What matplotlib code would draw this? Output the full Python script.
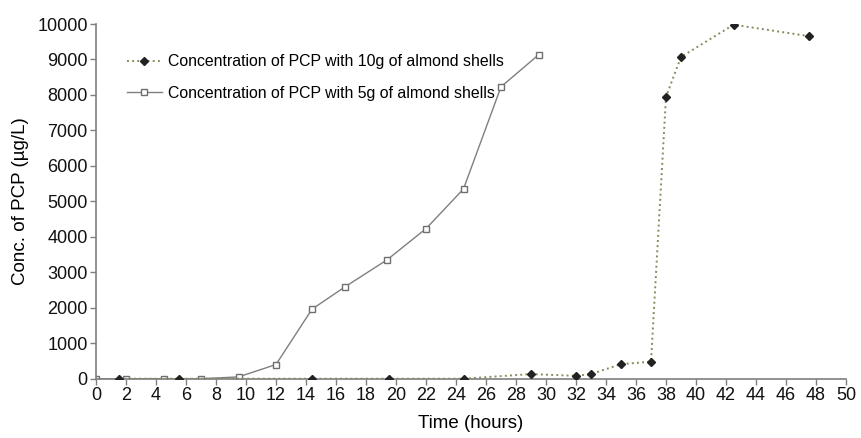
import matplotlib
matplotlib.use("Agg")
import matplotlib.pyplot as plt

plt.rcParams['font.family'] = ['Liberation Sans', 'DejaVu Sans']

# 10 g almond shells
t_10g = [1.5, 5.5, 14.4, 19.5, 24.5, 29.0, 32.0, 33.0, 35.0, 37.0, 38.0, 39.0, 42.5, 47.5]
c_10g = [0, 0, 0, 0, 0, 130, 80, 130, 410, 480, 7950, 9070, 9980, 9660]

# 5 g almond shells
t_5g = [0, 2.0, 4.5, 7.0, 9.5, 12.0, 14.4, 16.6, 19.4, 22.0, 24.5, 27.0, 29.5]
c_5g = [0, 0, 0, 0, 50, 400, 1960, 2590, 3350, 4230, 5350, 8230, 9130]

label_10g = "Concentration of PCP with 10g of almond shells"
label_5g = "Concentration of PCP with 5g of almond shells"

x_ticks = list(range(0, 51, 2))
y_ticks = list(range(0, 10001, 1000))

fig = plt.figure(figsize=(8.61, 4.38), dpi=100)
ax = fig.add_axes([0.1115, 0.1354, 0.8711, 0.8098])

ax.plot(t_10g, c_10g, linestyle=':', color='#8a8a5c', linewidth=1.4,
        marker='D', markersize=4, markerfacecolor='#222222', markeredgecolor='#222222',
        label=label_10g, zorder=3)
ax.plot(t_5g, c_5g, linestyle='-', color='#7f7f7f', linewidth=1.0,
        marker='s', markersize=5, markerfacecolor='white', markeredgecolor='#6f6f6f',
        markeredgewidth=1.0, label=label_5g, zorder=2)

ax.set_xlim(0, 50)
ax.set_ylim(0, 10000)
ax.set_xticks(x_ticks)
ax.set_yticks(y_ticks)
ax.tick_params(axis='both', labelsize=13, colors='#111111', length=4, width=1, pad=2)
ax.tick_params(axis='both', color='#7f7f7f')
for side in ['top', 'right']:
    ax.spines[side].set_visible(False)
for side in ['left', 'bottom']:
    ax.spines[side].set_color('#7f7f7f')
    ax.spines[side].set_linewidth(1.2)

ax.set_xlabel("Time (hours)", fontsize=13.5, labelpad=8)
ax.set_ylabel("Conc. of PCP (\u00b5g/L)", fontsize=13.5, labelpad=6)

leg = ax.legend(loc='upper left', bbox_to_anchor=(0.022, 0.955), frameon=False,
                fontsize=11.4, handlelength=2.2, labelspacing=1.05, handletextpad=0.4)

fig.savefig("out.png", dpi=100)
